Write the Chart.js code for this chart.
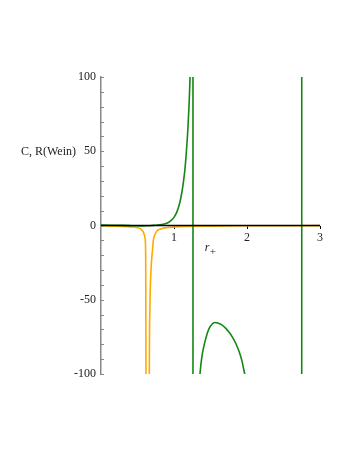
<!DOCTYPE html>
<html lang="en">
<head>
  <meta charset="UTF-8">
  <title>C, R(Wein)</title>
  <script src="https://cdn.jsdelivr.net/npm/chart.js"></script>
  <style>
    body { margin: 0; background: #fff; }
    canvas { display: block; }
  </style>
</head>
<body>
<canvas id="plot" width="349" height="451"></canvas>

<script>
  // C (green): x positions and values
  const cX = [0, 0.15, 0.3, 0.45, 0.55, 0.65, 0.72, 0.8, 0.85, 0.9, 0.95, 1.0, 1.04, 1.08, 1.11, 1.13, 1.15, 1.17, 1.19, 1.205, 1.22, 1.235, 1.248, 1.258,
              1.262, 1.3, 1.34, 1.356, 1.37, 1.39, 1.42, 1.45, 1.48, 1.52, 1.56, 1.6, 1.65, 1.7, 1.75, 1.8, 1.85, 1.9, 1.93, 1.96, 2.0, 2.1, 2.3, 2.6, 2.745,
              2.755, 2.9, 3.0];
  const cY = [0.3, 0.2, 0.1, -0.2, -0.3, -0.2, 0.1, 0.45, 0.8, 1.5, 2.9, 5.5, 9.2, 15.5, 22.9, 29.7, 38, 50, 65, 80, 100, 135, 200, 2000,
              -2000, -400, -115, -100, -93, -86, -79, -73.5, -69.5, -66.5, -65.3, -65.6, -66.8, -68.8, -71.6, -75.2, -79.8, -86, -91, -98, -107, -135, -200, -600, -5000,
              5000, 600, 400];

  // R(Wein) (orange)
  const rX = [0, 0.2, 0.4, 0.5, 0.55, 0.58, 0.6, 0.608, 0.613, 0.616, 0.625, 0.64,
              0.655, 0.662, 0.67, 0.685, 0.708, 0.717, 0.74, 0.763, 0.82, 0.877, 1.0, 1.5, 2.0, 3.0];
  const rY = [-0.2, -0.4, -0.9, -1.5, -2.6, -4.5, -7.5, -11, -30, -100, -400, -5000,
              -400, -100, -55, -30, -15, -10, -6, -3.8, -2.3, -1.6, -0.9, -0.4, -0.2, -0.1];

  const xTicks = [1, 2, 3];
  const yTicks = [-100, -50, 0, 50, 100];

  const serif = "'Liberation Serif', 'DejaVu Serif', serif";

  function toPoints(xs, ys) {
    return xs.map((x, i) => ({ x: x, y: ys[i] }));
  }

  // titles and the small inner ticks of the y axis
  const decorations = {
    id: 'decorations',
    afterDraw(chart) {
      const ctx = chart.ctx;
      const xs = chart.scales.x;
      const ys = chart.scales.y;
      ctx.save();
      ctx.strokeStyle = '#888';
      ctx.lineWidth = 1;
      const axisX = chart.chartArea.left;
      ys.ticks.forEach(t => {
        const py = Math.round(ys.getPixelForValue(t.value)) + 0.5;
        ctx.beginPath();
        ctx.moveTo(axisX, py);
        ctx.lineTo(axisX + 3, py);
        ctx.stroke();
      });

      ctx.fillStyle = '#222';
      ctx.font = '12px ' + serif;
      ctx.textBaseline = 'middle';
      ctx.textAlign = 'left';
      ctx.fillText('C, R(Wein)', 21, ys.getPixelForValue(50) + 1);

      const rx = xs.getPixelForValue(1.42);
      const ry = ys.getPixelForValue(0) + 25;
      ctx.textBaseline = 'alphabetic';
      ctx.font = 'italic 12px ' + serif;
      ctx.fillText('r', rx, ry);
      ctx.font = '11px ' + serif;
      ctx.fillText('+', rx + 5, ry + 4);
      ctx.restore();
    }
  };

  new Chart(document.getElementById('plot'), {
    type: 'scatter',
    data: {
      datasets: [
        {
          label: 'zero',
          data: toPoints([0, 3], [0, 0]),
          showLine: true,
          borderColor: '#000',
          borderWidth: 1.5,
          pointRadius: 0
        },
        {
          label: 'C',
          data: toPoints(cX, cY),
          showLine: true,
          borderColor: 'rgb(20,135,20)',
          borderWidth: 1.6,
          pointRadius: 0,
          cubicInterpolationMode: 'monotone'
        },
        {
          label: 'R(Wein)',
          data: toPoints(rX, rY),
          showLine: true,
          borderColor: 'rgb(255,170,0)',
          borderWidth: 1.6,
          pointRadius: 0,
          cubicInterpolationMode: 'monotone'
        }
      ]
    },
    options: {
      responsive: false,
      animation: false,
      layout: {
        padding: { left: 0, right: 29, top: 77, bottom: 77 }
      },
      plugins: {
        legend: { display: false },
        tooltip: { enabled: false }
      },
      scales: {
        x: {
          type: 'linear',
          position: { y: 0 },
          min: 0,
          max: 3,
          afterBuildTicks: s => { s.ticks = xTicks.map(v => ({ value: v })); },
          border: { display: false },
          grid: { drawOnChartArea: false, tickLength: 3, color: '#000', lineWidth: 1 },
          ticks: {
            padding: 2,
            color: '#222',
            font: { family: serif, size: 12 },
            maxRotation: 0,
            autoSkip: false
          }
        },
        y: {
          type: 'linear',
          position: 'left',
          min: -100,
          max: 100,
          ticks: {
            stepSize: 10,
            padding: 5,
            autoSkip: false,
            color: '#222',
            font: { family: serif, size: 12 },
            callback: v => yTicks.includes(v) ? String(v) : ''
          },
          afterFit: s => { s.width = 101; },
          border: { color: '#888', width: 1.5 },
          grid: { drawOnChartArea: false, drawTicks: false }
        }
      }
    },
    plugins: [decorations]
  });
</script>
</body>
</html>
